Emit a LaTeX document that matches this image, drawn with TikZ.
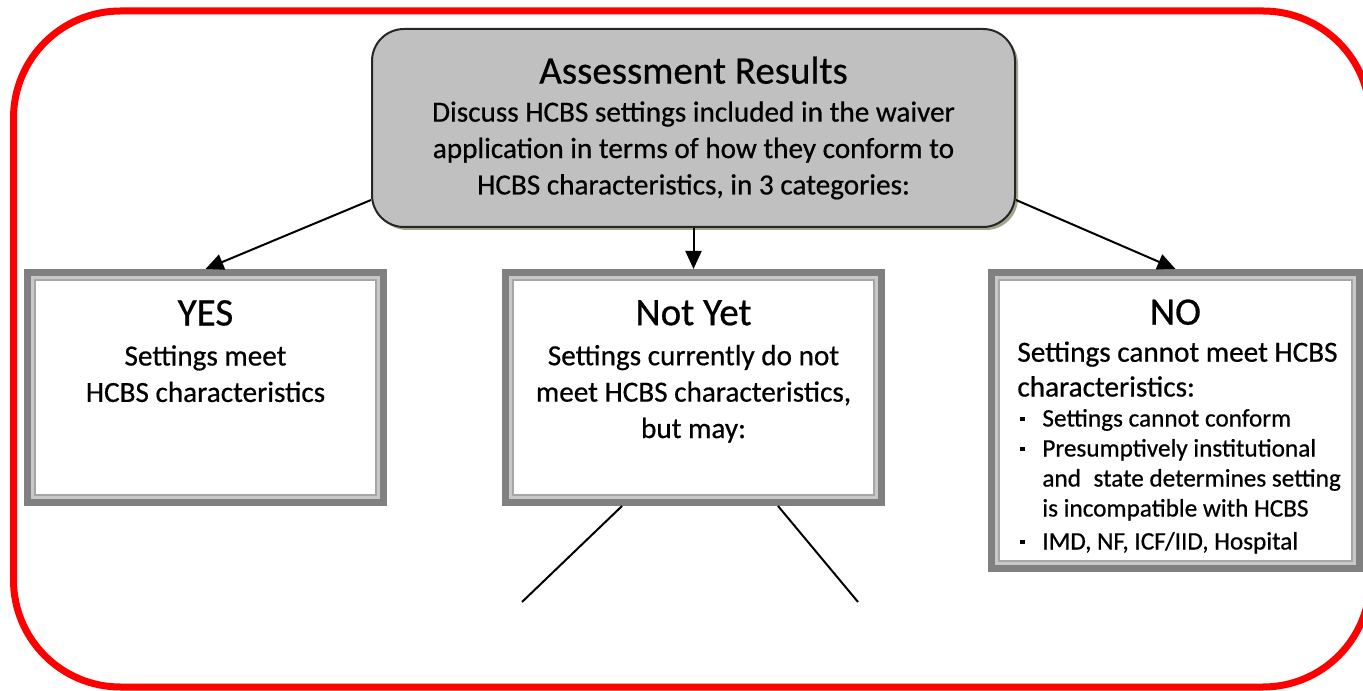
\documentclass[tikz,border=0pt]{standalone}
\usepackage{fontspec}
\setmainfont{Carlito}[FakeBold=0.6]
\usetikzlibrary{arrows.meta,positioning,shadows}
\definecolor{framedark}{HTML}{808080}
\definecolor{framelight}{HTML}{C8C8C8}
\definecolor{framemid}{HTML}{A6A6A6}
\definecolor{headfill}{HTML}{C0C0C0}
\definecolor{headshadow}{HTML}{A2A78C}
\newcommand{\boxtitle}[1]{{\fontsize{19.5}{22}\selectfont #1}}
\newcommand{\smalltext}{\fontsize{12.6}{15}\selectfont}
\newcommand{\sqbullet}{\hspace*{1.5pt}\rule[0.45ex]{2.2pt}{2.2pt}\hspace*{8.8pt}}

\begin{document}
\begin{tikzpicture}[
    every node/.style={font=\fontsize{14.6}{18.2}\selectfont},
    header/.style={draw=black!85, line width=1pt, rounded corners=16pt, fill=headfill, align=center,
        minimum width=321.5pt, minimum height=99pt,
        drop shadow={shadow xshift=1.5pt, shadow yshift=-1.5pt, fill=headshadow, opacity=1}},
    category/.style={draw=framedark, line width=3.5pt, fill=white, minimum height=115pt},
    caption/.style={inner sep=0pt, align=center},
    flow/.style={-{Triangle[length=9pt, width=8pt]}, line width=1pt},
    branch/.style={line width=1pt},
    outline/.style={draw=red, line width=3.5pt, rounded corners=53.5pt}
]
\useasboundingbox (0,0) rectangle (681.5pt,345pt);
\clip (0,0) rectangle (681.5pt,345pt);
\draw[outline] (6.75pt,1.5pt) rectangle (685pt,339.5pt);

\node[header] (results) at (346.75pt,281pt) {\boxtitle{Assessment Results}\\[0.8pt]
    Discuss HCBS settings included in the waiver\\
    application in terms of how they conform to\\
    HCBS characteristics, in 3 categories:};
\node[category, minimum width=188pt, below=20.5pt of results] (notyet) {};
\node[category, minimum width=178pt, left=57.5pt of notyet] (yes) {};
\node[category, minimum width=184pt, minimum height=148pt, right=51.5pt of notyet.north east, anchor=north west] (no) {};

\foreach \c in {yes,notyet,no} {
    \draw[framelight, line width=1.5pt] ([shift={(4.25pt,-4.25pt)}]\c.north west) rectangle ([shift={(-4.25pt,4.25pt)}]\c.south east);
    \draw[framemid, line width=1pt] ([shift={(5.5pt,-5.5pt)}]\c.north west) rectangle ([shift={(-5.5pt,5.5pt)}]\c.south east);
}

\node[caption, below=15.4pt of yes.north] (yestext) {\boxtitle{YES}\\[1.8pt]
    Settings meet\\ HCBS characteristics};
\node[caption, below=15.4pt of notyet.north] (notyettext) {\boxtitle{Not Yet}\\[1.8pt]
    Settings currently do not\\ meet HCBS characteristics,\\ but may:};
\node[caption, align=left, below right=15pt and 14.5pt of no.north west] (notext) {\makebox[158pt]{\boxtitle{NO}}\\[0.3pt]
    Settings cannot meet HCBS\\[-0.8pt]
    characteristics:\\[-3.2pt]
    \smalltext\sqbullet Settings cannot conform\\[-3.2pt]
    \smalltext\sqbullet Presumptively institutional\\[-3.2pt]
    \smalltext\hspace*{12.5pt}and\hspace{0.5em}state determines setting\\[-3.2pt]
    \smalltext\hspace*{12.5pt}is incompatible with HCBS\\[-1.7pt]
    \smalltext\sqbullet IMD, NF, ICF/IID, Hospital};

\draw[flow] ([yshift=-36pt]results.west) -- (yes.north);
\draw[flow] (results.south) -- (notyet.north);
\draw[flow] ([yshift=-36pt]results.east) -- (no.north);

\coordinate[below left=48pt and 85.75pt of notyet.south] (leftfoot);
\coordinate[below right=48pt and 82.25pt of notyet.south] (rightfoot);
\draw[branch] ([xshift=-35.75pt]notyet.south) -- (leftfoot);
\draw[branch] ([xshift=42.25pt]notyet.south) -- (rightfoot);
\end{tikzpicture}
\end{document}
